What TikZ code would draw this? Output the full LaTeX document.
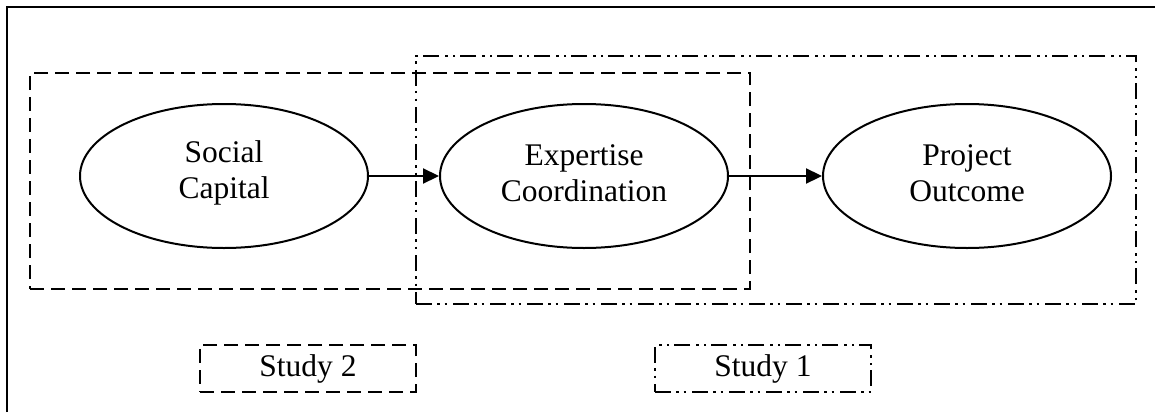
\documentclass[tikz,border=0pt]{standalone}
\usepackage{fontspec}
\setmainfont{Liberation Serif}
\usetikzlibrary{shapes.geometric,arrows.meta}
\begin{document}
\begin{tikzpicture}[x=1pt,y=-1pt,
  every node/.style={font=\fontsize{31.5}{36.5}\selectfont},
  construct/.style={ellipse,draw,line width=2pt,minimum width=288pt,minimum height=144pt,inner sep=0pt},
  caption/.style={align=center,inner sep=0pt,yshift=3pt},
  dashbox/.style={draw,line width=2.4pt,dash pattern=on 14pt off 7pt,inner sep=0pt},
  dotbox/.style={draw,line width=2.4pt,dash pattern=on 16pt off 5pt on 2.5pt off 5pt on 2.5pt off 6pt,inner sep=0pt},
  link/.style={line width=2.2pt,-{Triangle[length=16pt,width=15pt]}}]
  \useasboundingbox (0,0) rectangle (1155,412);
  % outer frame (top and left edges)
  \draw[line width=2.5pt] (7,412) -- (7,7) -- (1155,7);
  % study regions
  \node[dashbox,minimum width=720pt,minimum height=216pt] (s2region) at (390,181) {};
  \node[dotbox,minimum width=720pt,minimum height=248pt] (s1region) at (776,180) {};
  % constructs
  \node[construct] (sc) at (224,176) {};
  \node[construct] (ec) at (584,176) {};
  \node[construct] (po) at (967,176) {};
  \node[caption] (sct) at (sc.center) {Social\\Capital};
  \node[caption] (ect) at (ec.center) {Expertise\\Coordination};
  \node[caption] (pot) at (po.center) {Project\\Outcome};
  \draw[link] (sc.east) -- (ec.west);
  \draw[link] (ec.east) -- (po.west);
  % legend
  \node[dashbox,minimum width=216pt,minimum height=47pt] (s2) at (308,368.5) {Study 2};
  \node[dotbox,minimum width=216pt,minimum height=47pt] (s1) at (763,368.5) {Study 1};
\end{tikzpicture}
\end{document}
